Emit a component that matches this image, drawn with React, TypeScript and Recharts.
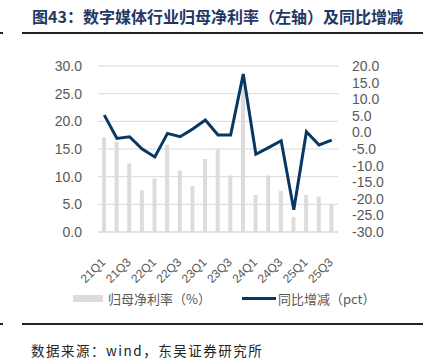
import {
  ComposedChart,
  CartesianGrid,
  XAxis,
  YAxis,
  Legend,
  Bar,
  Line,
} from "recharts";

const quarters = [
  "21Q1", "21Q2", "21Q3", "21Q4", "22Q1", "22Q2", "22Q3", "22Q4",
  "23Q1", "23Q2", "23Q3", "23Q4", "24Q1", "24Q2", "24Q3", "24Q4",
  "25Q1", "25Q2", "25Q3",
];
// 归母净利率 (%)
const margin = [
  17.1, 16.3, 12.4, 7.5, 9.7, 15.8, 11.1, 8.3, 13.2, 15.0, 10.2, 28.0,
  6.7, 10.2, 7.4, 2.7, 6.7, 6.4, 5.0,
];
// 同比增减 (pct)
const yoy = [
  5.2, -1.8, -1.3, -5.0, -7.4, -0.3, -1.3, 1.0, 3.7, -0.8, -0.8, 17.6,
  -6.6, -4.6, -2.5, -23.3, 0.2, -3.8, -2.3,
];
const leftTicks = [0, 5, 10, 15, 20, 25, 30];
const rightTicks = [-30, -25, -20, -15, -10, -5, 0, 5, 10, 15, 20];

const data = quarters.map((q, i) => ({ q, margin: margin[i], yoy: yoy[i] }));

const GRAY = "#595959";
const BAR = "#DCDCDC";
const NAVY = "#073763";
const sans = "'Liberation Sans', Arial, sans-serif";
const cjk = "'Noto Sans CJK SC', sans-serif";

function LegendBox() {
  return (
    <div
      style={{
        display: "flex",
        alignItems: "center",
        height: 24,
        fontFamily: cjk,
        fontSize: 13,
        color: GRAY,
        paddingLeft: 73,
      }}
    >
      <span style={{ width: 30, height: 7, background: BAR, marginRight: 5 }} />
      <span>归母净利率（%）</span>
      <span
        style={{ width: 34, height: 3, background: NAVY, marginLeft: 31, marginRight: 2 }}
      />
      <span>同比增减（pct）</span>
    </div>
  );
}

export default function App() {
  return (
    <div
      style={{
        position: "absolute",
        left: 0,
        top: 0,
        width: 427,
        height: 364,
        background: "#fff",
      }}
    >
      <div
        style={{
          position: "absolute",
          left: 32,
          top: 4,
          fontFamily: cjk,
          fontWeight: 700,
          fontSize: 16,
          color: "#1F3864",
          whiteSpace: "nowrap",
        }}
      >
        图43：数字媒体行业归母净利率（左轴）及同比增减
      </div>
      <div style={{ position: "absolute", left: 0, top: 32, width: 3, height: 2, background: "#222" }} />
      <div style={{ position: "absolute", left: 22, top: 32, width: 401, height: 2, background: "#222" }} />

      <div style={{ position: "absolute", left: 0, top: 0 }}>
        <ComposedChart
          width={427}
          height={310}
          data={data}
          margin={{ top: 66, right: 0, left: 0, bottom: 0 }}
        >
          <CartesianGrid vertical={false} stroke="#D9D9D9" yAxisId="left" />
          <XAxis
            dataKey="q"
            interval={1}
            angle={-45}
            textAnchor="end"
            height={54}
            tickLine={false}
            axisLine={{ stroke: "#D9D9D9" }}
            tick={{ fill: GRAY, fontSize: 12, fontFamily: sans, dx: -4 }}
            tickMargin={19}
          />
          <YAxis
            yAxisId="left"
            width={98}
            domain={[0, 30]}
            ticks={leftTicks}
            interval={0}
            tickFormatter={(v: number) => v.toFixed(1)}
            axisLine={false}
            tickLine={false}
            tickMargin={10}
            tick={{ fill: GRAY, fontSize: 14, fontFamily: sans }}
          />
          <YAxis
            yAxisId="right"
            orientation="right"
            width={89}
            domain={[-30, 20]}
            ticks={rightTicks}
            interval={0}
            tickFormatter={(v: number) => v.toFixed(1)}
            axisLine={false}
            tickLine={false}
            tickMargin={8}
            tick={{ fill: GRAY, fontSize: 14, fontFamily: sans, textAnchor: "start" }}
          />
          <Legend verticalAlign="bottom" height={24} content={() => <LegendBox />} />
          <Bar
            yAxisId="left"
            dataKey="margin"
            fill={BAR}
            barSize={4}
            isAnimationActive={false}
          />
          <Line
            yAxisId="right"
            dataKey="yoy"
            stroke={NAVY}
            strokeWidth={3}
            dot={false}
            isAnimationActive={false}
          />
        </ComposedChart>
      </div>

      <div style={{ position: "absolute", left: 0, top: 323, width: 3, height: 2, background: "#222" }} />
      <div style={{ position: "absolute", left: 22, top: 323, width: 401, height: 2, background: "#222" }} />
      <div
        style={{
          position: "absolute",
          left: 31,
          top: 340,
          fontFamily: cjk,
          fontSize: 13.5,
          letterSpacing: 1.5,
          color: "#222",
          whiteSpace: "nowrap",
        }}
      >
        数据来源：wind，东吴证券研究所
      </div>
    </div>
  );
}
